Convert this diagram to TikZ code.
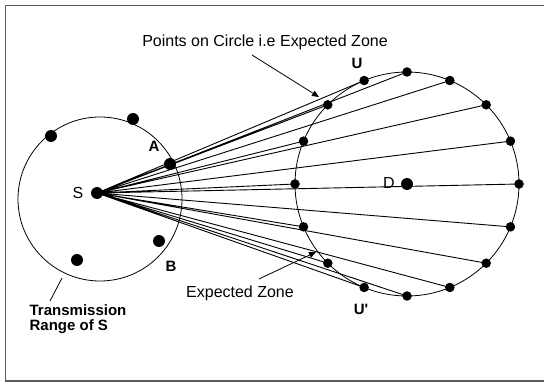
\documentclass[tikz,border=0pt]{standalone}
\usepackage{fontspec}
\setmainfont{Liberation Sans}
\usetikzlibrary{arrows.meta}

\begin{document}
\begin{tikzpicture}[x=1pt,y=-1pt,
  bigdot/.style={circle, fill=black, inner sep=0pt, minimum size=12pt},
  zonedot/.style={circle, fill=black, inner sep=0pt, minimum size=9.5pt},
  spoke/.style={black, line width=0.9pt},
  lbl/.style={font=\fontsize{16}{18}\selectfont},
  blbl/.style={font=\fontsize{15}{17}\selectfont\bfseries},
  pointer/.style={black, line width=0.8pt, -{Triangle[length=7pt,width=6pt]}}]

% Colori
\definecolor{frameGray}{HTML}{5A5A5A}

% Raggi
\def\r{112}
\def\rs{82}

% Cornice
\useasboundingbox (0,0) rectangle (544,382);
\draw[frameGray, line width=1.5pt] (5.5,5.5) rectangle (560,381);

% Nodi principali
\node[bigdot] (S) at (97,193) {};
\coordinate (D) at (407,184);
\node[bigdot] (Dd) at (D) {};

% Raggio di trasmissione di S
\draw[line width=0.8pt] (100,199) circle (\rs);

% Zona attesa
\draw[line width=0.8pt] (D) circle (\r);

% Punti sul cerchio
\node[zonedot] (p0) at ([shift={(0:\r)}]D) {};
\node[zonedot] (p1) at ([shift={(22.5:\r)}]D) {};
\node[zonedot] (p2) at ([shift={(45:\r)}]D) {};
\node[zonedot] (p3) at ([shift={(67.5:\r)}]D) {};
\node[zonedot] (p4) at ([shift={(90:\r)}]D) {};
\node[zonedot] (p5) at ([shift={(112.5:\r)}]D) {};
\node[zonedot] (p6) at ([shift={(135:\r)}]D) {};
\node[zonedot] (p7) at ([shift={(157.5:\r)}]D) {};
\node[zonedot] (p8) at ([shift={(180:\r)}]D) {};
\node[zonedot] (p9) at ([shift={(202.5:\r)}]D) {};
\node[zonedot] (p10) at ([shift={(225:\r)}]D) {};
\node[zonedot] (p11) at ([shift={(247.5:\r)}]D) {};
\node[zonedot] (p12) at ([shift={(270:\r)}]D) {};
\node[zonedot] (p13) at ([shift={(292.5:\r)}]D) {};
\node[zonedot] (p14) at ([shift={(315:\r)}]D) {};
\node[zonedot] (p15) at ([shift={(337.5:\r)}]D) {};

% Raggi da S verso i punti
\draw[spoke] (S.center) -- (p0.center) (S.center) -- (p1.center)
  (S.center) -- (p2.center) (S.center) -- (p3.center)
  (S.center) -- (p4.center) (S.center) -- (p5.center)
  (S.center) -- (p6.center) (S.center) -- (p7.center)
  (S.center) -- (p8.center) (S.center) -- (p9.center)
  (S.center) -- (p10.center) (S.center) -- (p11.center)
  (S.center) -- (p12.center) (S.center) -- (p13.center)
  (S.center) -- (p14.center) (S.center) -- (p15.center);

% Vicini di S
\node[bigdot] (n1) at (51,136) {};
\node[bigdot] (n2) at (133,119) {};
\node[bigdot] (nA) at (170,164) {};
\node[bigdot] (nB) at (159,241) {};
\node[bigdot] (n5) at (77,260) {};

% Etichette
\node[lbl] (lS) at (78,193) {S};
\node[lbl] (lD) at (389,183) {D};
\node[blbl] (lA) at (154,146) {A};
\node[blbl] (lB) at (171,266) {B};
\node[blbl] (lU) at (357,63) {U};
\node[blbl] (lU2) at (361,309) {U\textquotesingle};

% Didascalie con frecce
\node[lbl] (tPoints) at (265,42) {Points on Circle i.e Expected Zone};
\coordinate (tipUp) at (319,97);
\draw[pointer] (252,55) -- (tipUp);

\node[lbl] (tZone) at (240,293) {Expected Zone};
\coordinate (tipDown) at (316,252);
\draw[pointer] (259,279) -- (tipDown);

\node[blbl, align=left] (tRange) at (78,319) {Transmission\\[-2pt]Range of S};
\coordinate (onRange) at (62,278);
\draw[line width=0.8pt] (50,301) -- (onRange);

\end{tikzpicture}
\end{document}
